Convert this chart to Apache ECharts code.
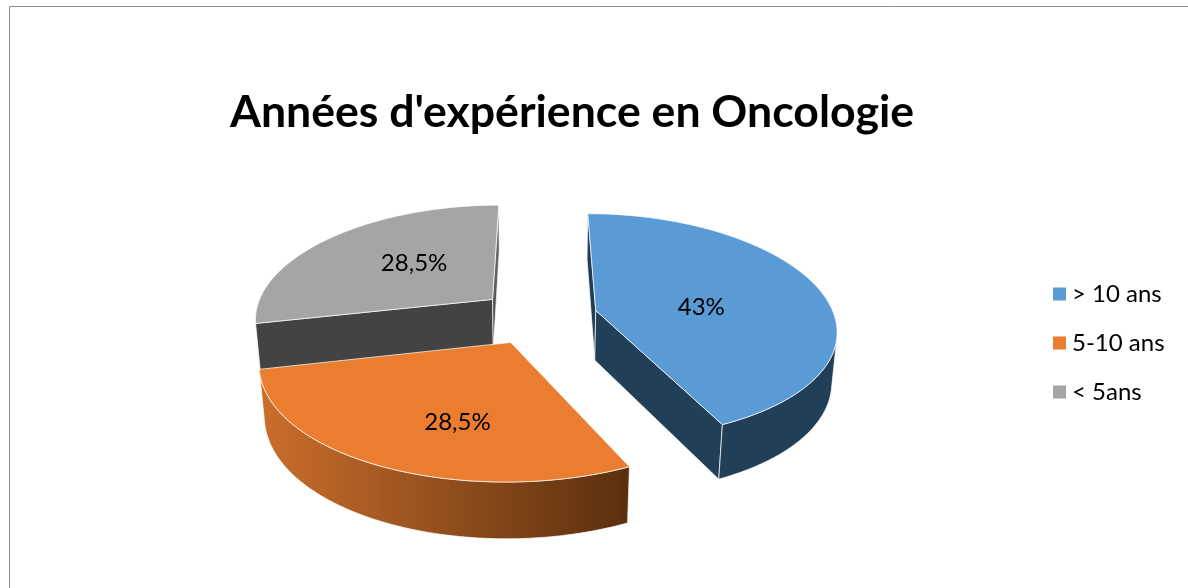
<!DOCTYPE html>
<html>
<head>
<meta charset="utf-8">
<title>Années d'expérience en Oncologie</title>
<script src="https://cdn.jsdelivr.net/npm/echarts@6/dist/echarts.min.js"></script>
<style>
  html, body { margin: 0; background: #fff; }
  #chart { width: 1188px; height: 588px; }
</style>
</head>
<body>
<div id="chart"></div>
<script>
const titleText = "Années d'expérience en Oncologie";
const categories = ["> 10 ans", "5-10 ans", "< 5ans"];
const shares = [43, 28.5, 28.5];
const shareLabels = ["43%", "28,5%", "28,5%"];
const topColors = ["#5B9BD5", "#EA7D30", "#A5A5A5"];
// [outer wall left, outer wall right]
const wallColors = [["#223F58", "#223F58"], ["#CB6E2C", "#5A2F0E"], ["#434343", "#434343"]];
// [start cut, end cut]
const cutColors = [["#223F58", "#223F58"], ["#5A2F0E", "#5A2F0E"], ["#434343", "#7C7C7C"]];

// Tilted-disc camera, fitted on the picture
const CENTER = [538, 316.5];
const FOCAL = 1512, DIST = 6.3, ELEV = 27.8 * Math.PI / 180;
const WIDTH_SCALE = 0.995, WIDTH_PERSP = 0.018; // small extra widening towards the viewer
const THICK = 0.24, EXPLODE = 0.25, LABEL_R = 0.45;
// pixel nudge of each share label from its radial spot
const LABEL_NUDGE = [[4, 7], [1, 29], [-2, -7]];

function project(x, y, z) {
  const yv = y * Math.cos(ELEV) - z * Math.sin(ELEV);
  const zv = z * Math.cos(ELEV) + y * Math.sin(ELEV);
  const k = FOCAL / (DIST - zv);
  return [CENTER[0] + x * k * WIDTH_SCALE * (1 + WIDTH_PERSP * z), CENTER[1] - yv * k];
}

function signedArea(points) {
  let sum = 0;
  points.forEach((p, i) => {
    const q = points[(i + 1) % points.length];
    sum += p[0] * q[1] - q[0] * p[1];
  });
  return sum;
}

const total = shares.reduce((a, b) => a + b, 0);
const edge = { stroke: "rgba(255,255,255,0.7)", lineWidth: 1 };

function sliceItem(seriesIdx) {
  return function (params, api) {
    const before = shares.slice(0, seriesIdx).reduce((a, b) => a + b, 0);
    const a0 = before / total * Math.PI * 2;
    const a1 = (before + api.value(0)) / total * Math.PI * 2;
    const mid = (a0 + a1) / 2;
    const ox = Math.sin(mid) * EXPLODE, oz = -Math.cos(mid) * EXPLODE;
    const pt = (a, r, y) => project(ox + Math.sin(a) * r, y, oz - Math.cos(a) * r);

    const steps = 80;
    const arcTop = [], arcBot = [];
    for (let i = 0; i <= steps; i++) {
      const a = a0 + (a1 - a0) * i / steps;
      arcTop.push(pt(a, 1, 0));
      arcBot.push(pt(a, 1, -THICK));
    }
    const apexTop = pt(0, 0, 0), apexBot = pt(0, 0, -THICK);
    const children = [];
    const face = (points, fill) => children.push({
      type: "polygon", shape: { points: points }, style: Object.assign({ fill: fill }, edge)
    });

    // the slice is convex, so drawing only the faces turned to the viewer is enough
    const startCut = [apexTop, arcTop[0], arcBot[0], apexBot];
    const endCut = [apexTop, arcTop[steps], arcBot[steps], apexBot];
    if (signedArea(startCut) < 0) face(startCut, cutColors[seriesIdx][0]);
    if (signedArea(endCut) > 0) {
      face(endCut, seriesIdx === 2
        ? new echarts.graphic.LinearGradient(0, 0, 0, 1, [
            { offset: 0, color: cutColors[seriesIdx][1] },
            { offset: 1, color: cutColors[seriesIdx][0] }
          ])
        : cutColors[seriesIdx][1]);
    }

    const t = [], b = [];
    for (let i = 0; i < steps; i++) {
      const quad = [arcTop[i], arcTop[i + 1], arcBot[i + 1], arcBot[i]];
      if (signedArea(quad) < 0) {
        if (!t.length) { t.push(arcTop[i]); b.push(arcBot[i]); }
        t.push(arcTop[i + 1]);
        b.push(arcBot[i + 1]);
      }
    }
    if (t.length) {
      face(t.concat(b.reverse()), new echarts.graphic.LinearGradient(0, 0, 1, 0, [
        { offset: 0, color: wallColors[seriesIdx][0] },
        { offset: 1, color: wallColors[seriesIdx][1] }
      ]));
    }
    face([apexTop].concat(arcTop), topColors[seriesIdx]);

    const lp = pt(mid, LABEL_R, 0);
    children.push({
      type: "text", z2: 5,
      style: {
        x: lp[0] + LABEL_NUDGE[seriesIdx][0], y: lp[1] + LABEL_NUDGE[seriesIdx][1],
        text: shareLabels[seriesIdx], fill: "#000",
        font: "24px Lato, Carlito, sans-serif", align: "center", verticalAlign: "middle"
      }
    });
    return { type: "group", children: children };
  };
}

const order = [2, 0, 1]; // painted back to front
const series = order.map(i => ({
  name: categories[i],
  type: "custom",
  coordinateSystem: "none",
  silent: true,
  z: 2 + order.indexOf(i),
  itemStyle: { color: topColors[i] },
  renderItem: sliceItem(i),
  data: [[shares[i]]]
}));

const chart = echarts.init(document.getElementById("chart"), null, { renderer: "canvas" });
chart.setOption({
  animation: false,
  backgroundColor: "#fff",
  title: {
    text: titleText, left: 225, top: 85,
    textStyle: { color: "#000", fontFamily: "Lato, Carlito, sans-serif", fontWeight: "bold", fontSize: 44.6 }
  },
  legend: {
    orient: "vertical", left: 1048, top: 277, itemGap: 25,
    itemWidth: 13, itemHeight: 13, icon: "rect",
    data: categories,
    textStyle: { color: "#000", fontFamily: "Lato, Carlito, sans-serif", fontSize: 24, padding: [0, 0, 0, 1] }
  },
  graphic: [
    { type: "polyline", silent: true, shape: { points: [[9.5, 588], [9.5, 6.5], [1188, 6.5]] },
      style: { stroke: "#8c8c8c", lineWidth: 1, fill: "none" } }
  ],
  series: series
});
</script>
</body>
</html>
